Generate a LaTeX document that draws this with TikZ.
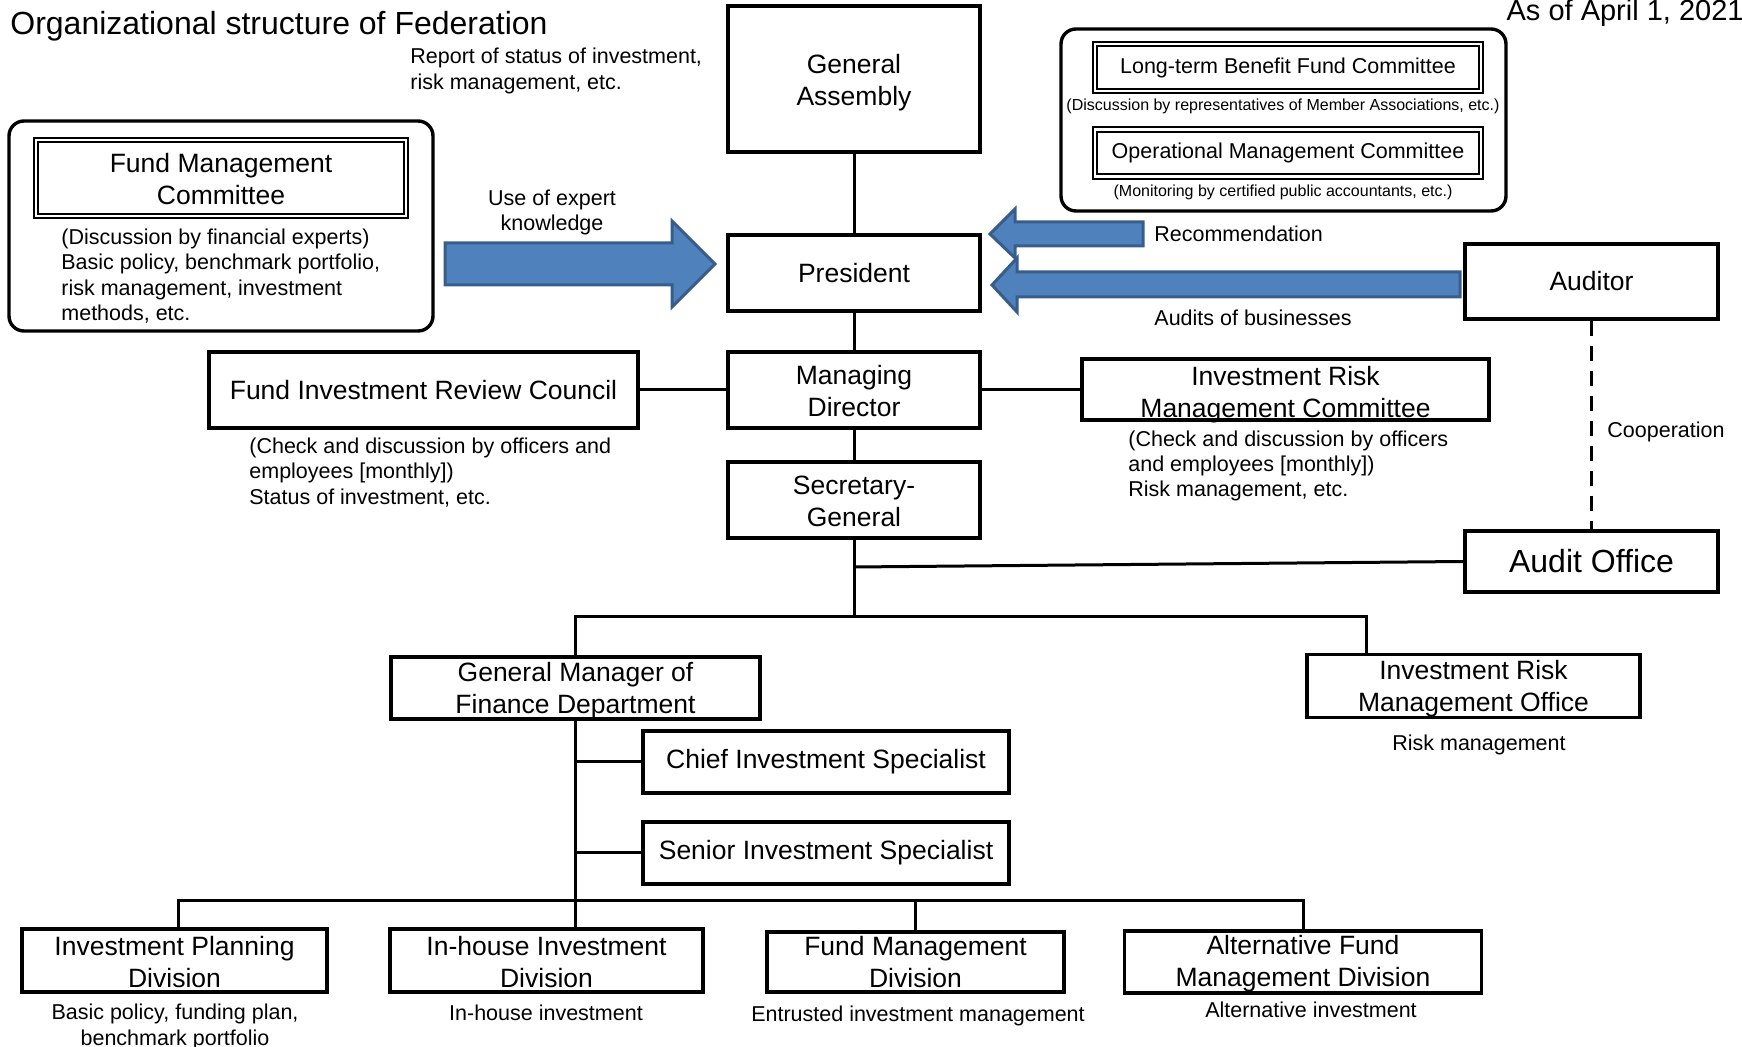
\documentclass[tikz,border=0pt]{standalone}
\usepackage{fontspec}
\setmainfont{Liberation Sans}
\usepackage{tikz}
\usetikzlibrary{positioning}
\definecolor{arrowfill}{RGB}{79,129,189}
\definecolor{arrowdraw}{RGB}{56,93,138}
\newcommand{\mainsize}{\fontsize{13.25pt}{16pt}\selectfont}
\newcommand{\smallsize}{\fontsize{10.75pt}{12.7pt}\selectfont}
\newcommand{\tinysize}{\fontsize{8pt}{9.5pt}\selectfont}
\newcommand{\bigsize}{\fontsize{16pt}{19pt}\selectfont}
\newcommand{\strutup}[1]{\rule{0pt}{#1}}
\tikzstyle{box} = [rectangle, draw, line width=1.6pt, inner sep=0pt, align=center, font=\mainsize]
\tikzstyle{dbox} = [rectangle, draw, line width=0.9pt, double, double distance=1.4pt, inner sep=0pt, align=center]
\tikzstyle{rbox} = [rectangle, draw, line width=1.7pt, rounded corners=7.5pt]
\tikzstyle{note} = [inner sep=0pt, align=left, font=\smallsize]
\tikzstyle{line} = [draw, line width=1.5pt]
\tikzstyle{bigarrow} = [fill=arrowfill, draw=arrowdraw, line width=1.5pt]

\begin{document}
\begin{tikzpicture}[x=0.5pt, y=-0.5pt]
	\useasboundingbox (0,0) rectangle (1742,1047);
	\node [anchor=base west, inner sep=0pt, font=\bigsize] (title) at (10,35) {Organizational structure of Federation};
	\node [anchor=base east, inner sep=0pt, font=\fontsize{14.5pt}{17pt}\selectfont] (asof) at (1744,21) {As of April 1, 2021};

	\node [rbox, minimum width=212pt, minimum height=105pt] (fmcframe) at (221,226) {};
	\node [rbox, minimum width=222.5pt, minimum height=91pt] (cmtframe) at (1283.5,120) {};
	\node [dbox, minimum width=185pt, minimum height=38pt, font=\mainsize] (fmc) at (221,178) {\strutup{11pt}Fund Management\\Committee};
	\node [dbox, minimum width=193pt, minimum height=23.5pt, font=\smallsize] (lbfc) at (1288,67.5) {Long-term Benefit Fund Committee};
	\node [dbox, minimum width=193pt, minimum height=23.5pt, font=\smallsize] (omc) at (1288,153) {Operational Management Committee};

	\node [box, minimum width=126pt, minimum height=73pt] (ga) at (854,79) {\strutup{13.7pt}General\\Assembly};
	\node [box, minimum width=126pt, minimum height=38pt] (pres) at (854,273) {President};
	\node [box, minimum width=126pt, minimum height=38pt] (md) at (854,390) {\strutup{11pt}Managing\\Director};
	\node [box, minimum width=126pt, minimum height=38pt] (sg) at (854,500) {\strutup{11pt}Secretary-\\General};
	\node [box, minimum width=214.5pt, minimum height=38pt] (firc) at (423.5,390) {Fund Investment Review Council};
	\node [box, minimum width=203.5pt, minimum height=30.5pt] (irmc) at (1285.5,389.5) {\raisebox{-13.9pt}[0pt][0pt]{\begin{tabular}[b]{@{}c@{}}Investment Risk\\Management Committee\end{tabular}}};
	\node [box, minimum width=126.5pt, minimum height=37.5pt] (auditor) at (1591.5,281.5) {Auditor};
	\node [box, minimum width=126.5pt, minimum height=30.5pt, font=\bigsize] (aoffice) at (1591.5,561.5) {Audit Office};
	\node [box, minimum width=184.5pt, minimum height=31pt] (gm) at (575.5,688) {\strutup{12.1pt}General Manager of\\Finance Department};
	\node [box, minimum width=166.5pt, minimum height=30.5pt] (irmo) at (1473.5,686) {\strutup{12.7pt}Investment Risk\\Management Office};
	\node [box, minimum width=183pt, minimum height=31pt] (cis) at (826,762) {Chief Investment Specialist};
	\node [box, minimum width=183pt, minimum height=31pt] (sis) at (826,853) {Senior Investment Specialist};
	\node [box, minimum width=152.5pt, minimum height=31.5pt] (ipd) at (174.5,960.5) {\strutup{11pt}Investment Planning\\Division};
	\node [box, minimum width=156.5pt, minimum height=31.5pt] (ihid) at (546.5,960.5) {\strutup{11pt}In-house Investment\\Division};
	\node [box, minimum width=148.5pt, minimum height=30pt] (fmd) at (915.5,962) {Fund Management\\Division};
	\node [box, minimum width=178.25pt, minimum height=31pt] (afmd) at (1303,962) {\strutup{11.7pt}Alternative Fund\\Management Division};

	\node [note, anchor=west] (fmcnote) at (61,276) {(Discussion by financial experts)\\Basic policy, benchmark portfolio,\\risk management, investment\\methods, etc.};
	\node [note, anchor=west] (report) at (410,71) {Report of status of investment,\\risk management, etc.};
	\node [note, align=center] (expert) at (552,212.5) {Use of expert\\knowledge};
	\node [note, anchor=west] (fircnote) at (249,472.5) {(Check and discussion by officers and\\employees [monthly])\\Status of investment, etc.};
	\node [note, anchor=west] (irmcnote) at (1128,466) {(Check and discussion by officers\\and employees [monthly])\\Risk management, etc.};
	\node [note, anchor=west] (recommend) at (1154,234) {Recommendation};
	\node [note] (auditnote) at (1253,318) {Audits of businesses};
	\node [note, anchor=west] (coop) at (1607,432) {Cooperation};
	\node [note] (irmonote) at (1479,745) {Risk management};
	\node [note, align=center] (ipdnote) at (175,1027) {Basic policy, funding plan,\\benchmark portfolio};
	\node [note] (ihidnote) at (546,1013) {In-house investment};
	\node [note] (fmdnote) at (918,1016) {Entrusted investment management};
	\node [note] (afmdnote) at (1311,1010) {Alternative investment};
	\node [note, font=\tinysize] (lbfcnote) at (1283,106.5) {(Discussion by representatives of Member Associations, etc.)};
	\node [note, font=\tinysize] (omcnote) at (1283,192) {(Monitoring by certified public accountants, etc.)};

	\path [bigarrow] (445,243) -- (672,243) -- (672,221) -- (715,264) -- (672,307) -- (672,285) -- (445,285) -- cycle;
	\path [bigarrow] (1143,222) -- (1015,222) -- (1015,209) -- (990,234) -- (1015,258) -- (1015,246) -- (1143,246) -- cycle;
	\path [bigarrow] (1460,272) -- (1017,272) -- (1017,258) -- (992,285) -- (1017,312) -- (1017,297) -- (1460,297) -- cycle;

	\coordinate (aojoint) at (854,567);
	\coordinate (upperbus) at (854,617);
	\coordinate (irmojoint) at (1366.5,617);
	\coordinate (lowerbus) at (576,901);
	\coordinate (ipdjoint) at (178,901);
	\coordinate (afmdjoint) at (1303,901);

	\path [line] (ga) -- (pres);
	\path [line] (pres) -- (md);
	\path [line] (md) -- (sg);
	\path [line] (firc) -- (md);
	\path [line] (md.east) -- (md.east -| irmc.west);
	\path [line] (sg) -- (upperbus);
	\path [line] (aojoint) -- (aoffice.west);
	\path [line] (gm.north) -- (gm.north |- upperbus) -- (irmojoint) -- (irmojoint |- irmo.north);
	\path [line] (gm.south) -- (gm.south |- ihid.north);
	\path [line] (gm.south |- cis.west) -- (cis.west);
	\path [line] (gm.south |- sis.west) -- (sis.west);
	\path [line] (ipdjoint |- ipd.north) -- (ipdjoint) -- (afmdjoint) -- (afmd.north);
	\path [line] (fmd.north) -- (fmd.north |- lowerbus);
	\path [line, dashed, dash pattern=on 7.5pt off 5pt] (auditor) -- (aoffice);
\end{tikzpicture}
\end{document}
